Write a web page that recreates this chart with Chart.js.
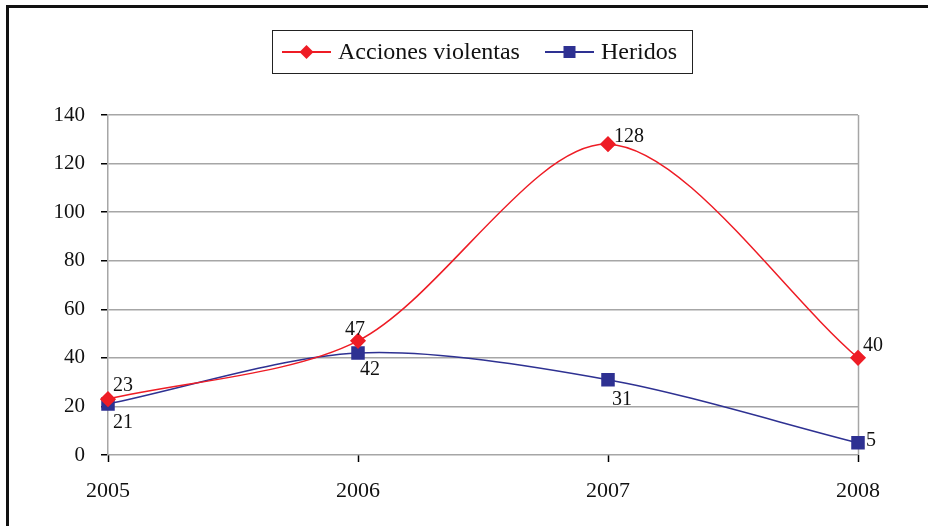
<!DOCTYPE html>
<html>
<head>
<meta charset="utf-8">
<script src="https://cdn.jsdelivr.net/npm/chart.js@4"></script>
<style>
  html, body { margin: 0; padding: 0; background: #fff; }
  #wrap { width: 928px; height: 526px; }
</style>
</head>
<body>
<div id="wrap"><canvas id="chart" width="928" height="526"></canvas></div>
<script>
// data
const years = ['2005', '2006', '2007', '2008'];
const acciones = [23, 47, 128, 40];
const heridos = [21, 42, 31, 5];
const yTicks = [0, 20, 40, 60, 80, 100, 120, 140];

const seriesNames = ['Acciones violentas', 'Heridos'];
const red = '#ee1c25';
const blue = '#2e3192';
const serif = '"Liberation Serif", "Times New Roman", serif';

// centre of each value label relative to its point (px)
const labelOffsets = [
    [[15, -13], [-3, -11], [21, -7], [15, -12]],
    [[15, 19], [12, 17], [14, 20], [13, -2]]
];

// outer frame + legend box
const framePlugin = {
    id: 'frame',
    beforeDraw(chart) {
        const ctx = chart.ctx;
        ctx.save();
        ctx.fillStyle = '#fff';
        ctx.fillRect(0, 0, chart.width, chart.height);
        ctx.strokeStyle = '#111';
        ctx.lineWidth = 3;
        ctx.strokeRect(7.5, 6.5, 940, 540);
        ctx.restore();
    },
    afterDraw(chart) {
        const ctx = chart.ctx;
        ctx.save();
        ctx.strokeStyle = '#222';
        ctx.lineWidth = 1;
        ctx.strokeRect(272.5, 30.5, 420, 43);
        const ly = 52;
        const items = [
            { x: 282, color: red, marker: 'diamond' },
            { x: 545, color: blue, marker: 'square' }
        ];
        items.forEach((it, i) => {
            ctx.strokeStyle = it.color;
            ctx.lineWidth = 2;
            ctx.beginPath();
            ctx.moveTo(it.x, ly);
            ctx.lineTo(it.x + 49, ly);
            ctx.stroke();
            ctx.fillStyle = it.color;
            const cx = it.x + 24.5;
            if (it.marker === 'diamond') {
                ctx.beginPath();
                ctx.moveTo(cx, ly - 7);
                ctx.lineTo(cx + 7, ly);
                ctx.lineTo(cx, ly + 7);
                ctx.lineTo(cx - 7, ly);
                ctx.closePath();
                ctx.fill();
            } else {
                ctx.fillRect(cx - 6, ly - 6, 12, 12);
            }
            ctx.fillStyle = '#111';
            ctx.font = '24px ' + serif;
            ctx.textBaseline = 'middle';
            ctx.textAlign = 'left';
            ctx.fillText(seriesNames[i], it.x + 56, ly + 1);
        });
        ctx.restore();
    }
};

// right edge of the plot area
const plotBorder = {
    id: 'plotBorder',
    beforeDatasetsDraw(chart) {
        const a = chart.chartArea;
        const ctx = chart.ctx;
        ctx.save();
        ctx.strokeStyle = '#a6a6a6';
        ctx.lineWidth = 1.5;
        ctx.beginPath();
        ctx.moveTo(Math.round(a.right) + 0.5, a.top);
        ctx.lineTo(Math.round(a.right) + 0.5, a.bottom);
        ctx.stroke();
        ctx.restore();
    }
};

const valueLabels = {
    id: 'valueLabels',
    afterDatasetsDraw(chart) {
        const ctx = chart.ctx;
        ctx.save();
        ctx.font = '20px ' + serif;
        ctx.fillStyle = '#111';
        ctx.textAlign = 'center';
        ctx.textBaseline = 'middle';
        chart.data.datasets.forEach((ds, di) => {
            const meta = chart.getDatasetMeta(di);
            meta.data.forEach((pt, i) => {
                const off = labelOffsets[di][i];
                ctx.fillText(String(ds.data[i]), pt.x + off[0], pt.y + off[1]);
            });
        });
        ctx.restore();
    }
};

new Chart(document.getElementById('chart'), {
    type: 'line',
    data: {
        labels: years,
        datasets: [
            {
                label: seriesNames[0],
                data: acciones,
                borderColor: red,
                backgroundColor: red,
                borderWidth: 1.5,
                tension: 0.3,
                pointStyle: 'rectRot',
                pointRadius: 7,
                pointHoverRadius: 7,
                fill: false
            },
            {
                label: seriesNames[1],
                data: heridos,
                borderColor: blue,
                backgroundColor: blue,
                borderWidth: 1.5,
                tension: 0.3,
                pointStyle: 'rect',
                pointRadius: 8.5,
                pointHoverRadius: 8.5,
                fill: false
            }
        ]
    },
    options: {
        responsive: false,
        animation: false,
        layout: { padding: { left: 0, right: 70, top: 115, bottom: 0 } },
        plugins: {
            legend: { display: false },
            tooltip: { enabled: false }
        },
        scales: {
            x: {
                offset: false,
                grid: {
                    drawOnChartArea: false,
                    drawTicks: true,
                    tickLength: 7,
                    tickColor: '#000',
                    tickWidth: 1.5
                },
                border: { display: false },
                ticks: {
                    color: '#111',
                    padding: 16,
                    maxRotation: 0,
                    font: { family: serif, size: 22 }
                },
                afterFit(scale) { scale.height = 71; }
            },
            y: {
                min: 0,
                max: 140,
                afterBuildTicks(scale) { scale.ticks = yTicks.map(v => ({ value: v })); },
                grid: {
                    color: '#a6a6a6',
                    lineWidth: 1.5,
                    tickLength: 7,
                    tickColor: '#000',
                    tickWidth: 1.5
                },
                border: { color: '#a6a6a6', width: 1.5 },
                ticks: {
                    color: '#111',
                    padding: 16,
                    font: { family: serif, size: 21 }
                },
                afterFit(scale) { scale.width = 108; }
            }
        }
    },
    plugins: [framePlugin, plotBorder, valueLabels]
});
</script>
</body>
</html>
